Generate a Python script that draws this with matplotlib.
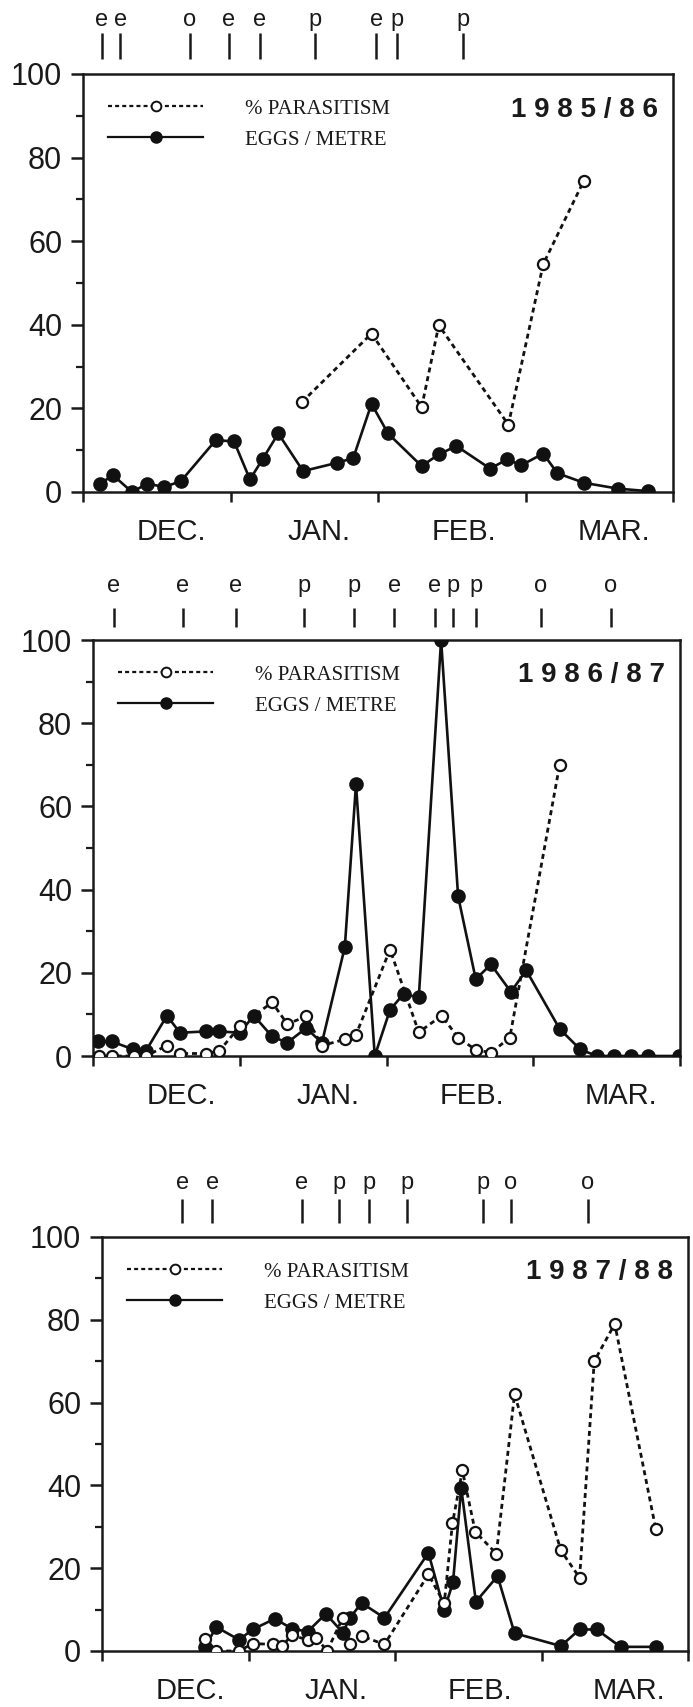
import matplotlib
matplotlib.use("Agg")
import matplotlib.pyplot as plt
from matplotlib.lines import Line2D
import numpy as np

# ---------------- data (x in months from 1 Dec: 0..4) ----------------
# Panel 1985/86
eggs1_x = [0.116, 0.204, 0.332, 0.436, 0.552, 0.664, 0.900, 1.024, 1.132, 1.220, 1.324, 1.492,
           1.724, 1.832, 1.956, 2.068, 2.296, 2.412, 2.532, 2.760, 2.876, 2.972, 3.120, 3.216,
           3.396, 3.628, 3.832]
eggs1_y = [2.0, 4.0, 0.0, 2.0, 1.2, 2.6, 12.4, 12.1, 3.0, 8.0, 14.0, 5.0,
           7.0, 8.1, 21.1, 14.0, 6.2, 9.0, 11.0, 5.6, 7.8, 6.4, 9.2, 4.5,
           2.2, 0.8, 0.2]
par1_x = [1.484, 1.956, 2.296, 2.412, 2.884, 3.120, 3.396]
par1_y = [21.5, 37.9, 20.3, 39.9, 16.1, 54.5, 74.5]
ev1_x = [0.128, 0.252, 0.724, 0.988, 1.200, 1.576, 1.988, 2.128, 2.576]
ev1_lbl = ["e", "e", "o", "e", "e", "p", "e", "p", "p"]

# Panel 1986/87
eggs2_x = [0.032, 0.128, 0.272, 0.360, 0.504, 0.592, 0.768, 0.860, 1.000, 1.096, 1.220,
           1.324, 1.452, 1.560, 1.716, 1.792, 1.920, 2.024, 2.116, 2.220, 2.372, 2.488,
           2.608, 2.712, 2.848, 2.952, 3.180, 3.320, 3.432, 3.552, 3.668, 3.780, 3.996]
eggs2_y = [3.5, 3.5, 1.6, 1.2, 9.7, 5.6, 5.9, 5.9, 5.6, 9.7, 4.7,
           3.2, 6.7, 3.2, 26.2, 65.3, 0.0, 11.1, 14.9, 14.1, 100.0, 38.4,
           18.5, 22.0, 15.4, 20.6, 6.5, 1.6, 0.0, 0.0, 0.0, 0.0, 0.0]
par2_x = [0.040, 0.128, 0.280, 0.360, 0.504, 0.592, 0.768, 0.860, 1.000, 1.220, 1.324,
          1.452, 1.560, 1.716, 1.792, 2.024, 2.220, 2.376, 2.488, 2.608, 2.712, 2.840, 3.180]
par2_y = [0.0, 0.0, 0.0, 0.0, 2.5, 0.6, 0.6, 1.2, 7.1, 12.9, 7.7,
          9.5, 2.5, 4.0, 5.1, 25.6, 5.7, 9.7, 4.4, 1.5, 0.8, 4.4, 70.0]
ev2_x = [0.140, 0.612, 0.972, 1.440, 1.776, 2.052, 2.328, 2.452, 2.612, 3.052, 3.528]
ev2_lbl = ["e", "e", "e", "p", "p", "e", "e", "p", "p", "o", "o"]

# Panel 1987/88
eggs3_x = [0.704, 0.780, 0.936, 1.028, 1.180, 1.296, 1.404, 1.528, 1.644, 1.692, 1.772,
           1.928, 2.228, 2.336, 2.396, 2.452, 2.552, 2.700, 2.816, 3.132, 3.260, 3.376,
           3.540, 3.780]
eggs3_y = [1.0, 5.8, 2.7, 5.2, 7.8, 5.4, 4.7, 9.0, 4.4, 8.0, 11.6,
           8.0, 23.7, 9.9, 16.6, 39.4, 11.9, 18.1, 4.3, 1.2, 5.2, 5.2,
           1.0, 1.0]
par3_x = [0.704, 0.780, 0.936, 1.028, 1.164, 1.228, 1.296, 1.404, 1.464, 1.536, 1.644,
          1.692, 1.772, 1.928, 2.228, 2.336, 2.392, 2.460, 2.548, 2.692, 2.816, 3.132,
          3.260, 3.360, 3.500, 3.780]
par3_y = [3.0, 0.0, 0.0, 1.8, 1.6, 1.2, 3.8, 2.7, 3.2, 0.0, 8.0,
          1.8, 3.6, 1.6, 18.5, 11.5, 30.8, 43.6, 28.8, 23.5, 62.0, 24.3,
          17.7, 70.0, 79.0, 29.5]
ev3_x = [0.548, 0.752, 1.364, 1.616, 1.824, 2.084, 2.600, 2.792, 3.316]
ev3_lbl = ["e", "e", "e", "p", "p", "p", "p", "o", "o"]

years = ["1 9 8 5 / 8 6", "1 9 8 6 / 8 7", "1 9 8 7 / 8 8"]
months = ["DEC.", "JAN.", "FEB.", "MAR."]
month_label_x = [0.60, 1.60, 2.58, 3.60]
yticks = [0, 20, 40, 60, 80, 100]

# ---------------- figure ----------------
W, H = 693, 1707
fig = plt.figure(figsize=(W / 100, H / 100), dpi=100)
fig.patch.set_facecolor("white")

SANS = ["Liberation Sans", "DejaVu Sans"]
SERIF = ["Liberation Serif", "DejaVu Serif"]

# axes boxes in pixels: (left, top, right, bottom)
boxes = [(83, 74, 673, 492), (93, 640, 680, 1056), (102, 1237, 688, 1651)]
ev_geom = [(15, 41), (13, 32), (14, 38)]

panels = [
    (eggs1_x, eggs1_y, par1_x, par1_y, ev1_x, ev1_lbl),
    (eggs2_x, eggs2_y, par2_x, par2_y, ev2_x, ev2_lbl),
    (eggs3_x, eggs3_y, par3_x, par3_y, ev3_x, ev3_lbl),
]

dot_style = (0, (1.8, 1.4))

for i, (box, pdata) in enumerate(zip(boxes, panels)):
    l, t, r, b = box
    ax = fig.add_axes([l / W, 1 - b / H, (r - l) / W, (b - t) / H])
    ex, ey, px, py, evx, evl = pdata
    hpx = b - t

    ax.plot(ex, ey, color="#111111", lw=1.9, marker="o", ms=9.5,
            markerfacecolor="#111111", markeredgecolor="#111111", zorder=3)
    ax.plot(px, py, color="#111111", lw=2.0, ls=dot_style, marker="o", ms=8,
            markerfacecolor="white", markeredgecolor="#111111", markeredgewidth=1.6, zorder=4)

    ax.set_xlim(0, 4)
    ax.set_ylim(0, 100)
    ax.set_xticks([0, 1, 2, 3, 4])
    ax.set_xticklabels([])
    ax.set_xticks(month_label_x, minor=True)
    ax.set_xticklabels(months, minor=True, fontsize=21, family=SANS, color="#1a1a1a")
    ax.tick_params(axis="x", which="major", direction="out", length=7, width=1.8, color="#1a1a1a")
    ax.tick_params(axis="x", which="minor", length=0, pad=19)
    ax.set_yticks(yticks)
    ax.set_yticklabels([str(v) for v in yticks], fontsize=22, family=SANS, color="#1a1a1a")
    ax.set_yticks([10, 30, 50, 70, 90], minor=True)
    ax.tick_params(axis="y", which="major", direction="out", length=9, width=1.8, pad=6, color="#1a1a1a")
    ax.tick_params(axis="y", which="minor", direction="out", length=5, width=1.6, color="#1a1a1a")
    for s in ax.spines.values():
        s.set_linewidth(1.8)
        s.set_color("#1a1a1a")

    # event markers above the axes
    g0, g1 = ev_geom[i]
    trans = ax.get_xaxis_transform()
    ax.vlines(evx, 1 + g0 / hpx, 1 + g1 / hpx, transform=trans, colors="#1a1a1a",
              lw=1.8, clip_on=False)
    for xx, lb in zip(evx, evl):
        ax.text(xx, 1 + 54 / hpx, lb, transform=trans, ha="center", va="center",
                fontsize=17, family=SANS, color="#1a1a1a")

    # year label
    ax.text(0.975, 0.915, years[i], transform=ax.transAxes, ha="right", va="center",
            fontsize=20, fontweight="bold", family=SANS, color="#1a1a1a")

    # legend
    h1 = Line2D([], [], color="#111111", lw=1.6, ls=dot_style, marker="o", ms=7,
                markerfacecolor="white", markeredgecolor="#111111", markeredgewidth=1.4)
    h2 = Line2D([], [], color="#111111", lw=1.6, marker="o", ms=8,
                markerfacecolor="#111111", markeredgecolor="#111111")
    leg = ax.legend([h1, h2], ["% PARASITISM", "EGGS / METRE"], loc="upper left",
                    bbox_to_anchor=(0.01, 0.985), frameon=False, handlelength=4.6,
                    handletextpad=2.0, labelspacing=0.55,
                    prop={"family": SERIF, "size": 15})
    for txt in leg.get_texts():
        txt.set_color("#1a1a1a")

fig.savefig("out.png", dpi=100, facecolor="white")
